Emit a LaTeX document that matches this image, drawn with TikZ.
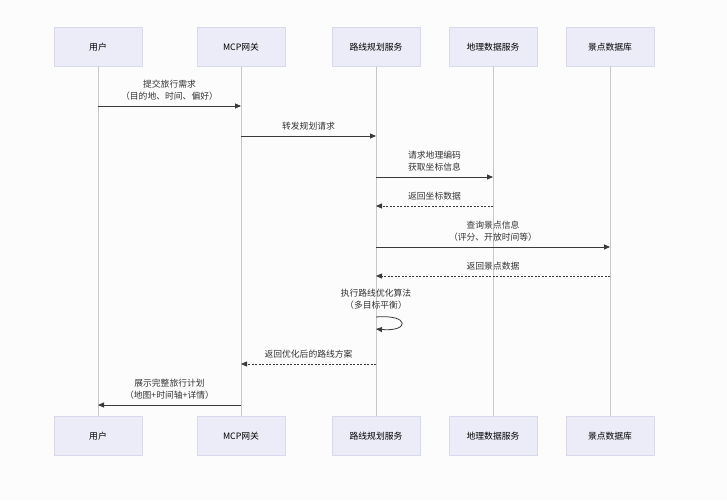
\documentclass[tikz,border=0pt]{standalone}
\usepackage{fontspec}
\setmainfont{Noto Sans CJK SC}
\usetikzlibrary{arrows.meta}
\definecolor{boxfill}{HTML}{ECECF8}
\definecolor{boxline}{HTML}{D9D9EE}
\definecolor{msgcol}{HTML}{3A3A3A}
\begin{document}
\begin{tikzpicture}[x=1pt, y=-1pt,
	actor/.style={draw=boxline, fill=boxfill, minimum width=88pt, minimum height=39pt, inner sep=0pt, font=\fontsize{8.8}{10}\selectfont},
	life/.style={draw=black!22, line width=0.6pt},
	msg/.style={draw=msgcol, line width=0.8pt, -{Triangle[length=6pt, width=5pt]}},
	reply/.style={msg, dashed, dash pattern=on 2pt off 1.5pt},
	txt/.style={inner sep=1pt, align=center, text=black!80, font=\fontsize{8.8}{12}\selectfont},
	lbl/.style={txt, midway, above=4pt}]
	\fill[black!1] (0,0) rectangle (727,500);
	\useasboundingbox (0,0) rectangle (727,500);
	% participants, top and bottom
	\foreach \n/\x/\t in {u/98/用户, g/241/MCP网关, r/376/路线规划服务, d/493/地理数据服务, s/610/景点数据库} {
		\node[actor] (\n T) at (\x, 47) {\t};
		\node[actor] (\n B) at (\x, 436) {\t};
		\draw[life] (\n T) -- (\n B);
	}
	% messages
	\draw[msg] (uT |- 0,106) -- (gT |- 0,106) node[lbl] {提交旅行需求\\（目的地、时间、偏好）};
	\draw[msg] (gT |- 0,136) -- (rT |- 0,136) node[lbl] {转发规划请求};
	\draw[msg] (rT |- 0,177) -- (dT |- 0,177) node[lbl] {请求地理编码\\获取坐标信息};
	\draw[reply] (dT |- 0,206) -- (rT |- 0,206) node[lbl] {返回坐标数据};
	\draw[msg] (rT |- 0,247) -- (sT |- 0,247) node[lbl] {查询景点信息\\（评分、开放时间等）};
	\draw[reply] (sT |- 0,276) -- (rT |- 0,276) node[lbl] {返回景点数据};
	\node[txt] (opt) at (376, 299) {执行路线优化算法\\（多目标平衡）};
	\draw[msg] (rT |- 0,317) .. controls +(34,-3) and +(34,3) .. (rT |- 0,329);
	\draw[reply] (rT |- 0,364) -- (gT |- 0,364) node[lbl] {返回优化后的路线方案};
	\draw[msg] (gT |- 0,405) -- (uT |- 0,405) node[lbl] {展示完整旅行计划\\（地图+时间轴+详情）};
\end{tikzpicture}
\end{document}
